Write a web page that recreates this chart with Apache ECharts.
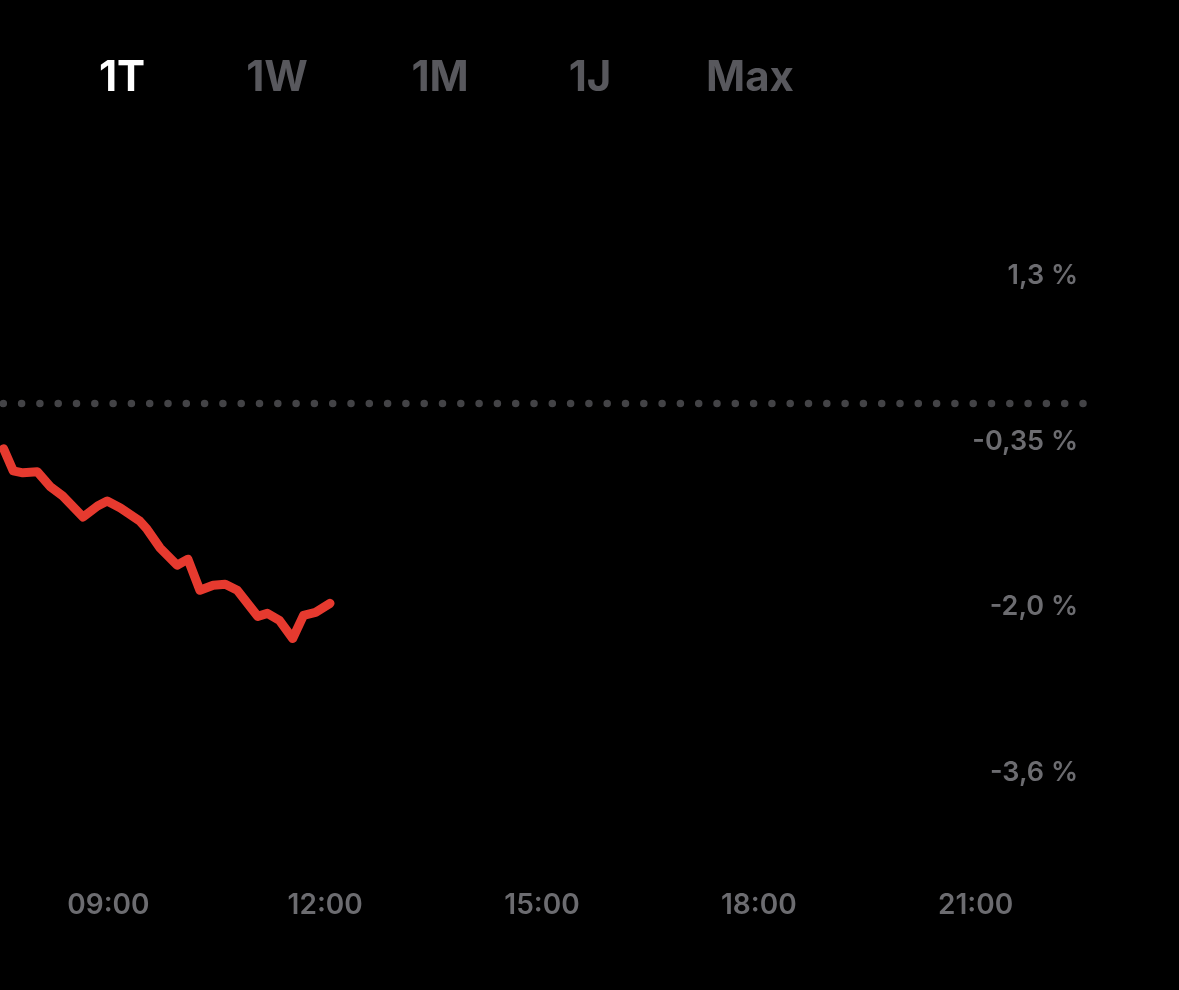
<!DOCTYPE html>
<html>
<head>
<meta charset="utf-8">
<script src="https://cdn.jsdelivr.net/npm/echarts@6/dist/echarts.min.js"></script>
<style>
  html, body { margin: 0; padding: 0; background: #000; }
  #chart { width: 1179px; height: 990px; }
</style>
</head>
<body>
<div id="chart"></div>
<script>
// ---- data ----
const tabs = ['1T', '1W', '1M', '1J', 'Max'];
const activeTab = '1T';
const times = ['07:33','07:41','07:49','08:01','08:12','08:22','08:39','08:51','08:59','09:10','09:26','09:32','09:43','09:57','10:06','10:16','10:27','10:37','10:47','11:04','11:12','11:22','11:33','11:42','11:52','12:04'];
const changePct = [-0.45,-0.67,-0.69,-0.68,-0.83,-0.92,-1.13,-1.02,-0.97,-1.04,-1.17,-1.25,-1.44,-1.61,-1.55,-1.86,-1.81,-1.80,-1.86,-2.12,-2.09,-2.16,-2.34,-2.11,-2.08,-1.99];
const baselinePct = 0;
const yTickValues = [1.3, -0.35, -2.0, -3.65];
const yTickLabels = ['1,3 %', '-0,35 %', '-2,0 %', '-3,6 %'];
const xTickHours = [9, 12, 15, 18, 21];
const xTickLabels = ['09:00', '12:00', '15:00', '18:00', '21:00'];
const sessionStart = '07:30';
const sessionEnd = '22:30';

// ---- helpers ----
const toHours = s => { const p = s.split(':'); return +p[0] + (+p[1]) / 60; };
const lineData = times.map((t, i) => [toHours(t), changePct[i]]);
const xMin = toHours(sessionStart), xMax = toHours(sessionEnd);

const FONT = 'Inter, "Noto Sans", "DejaVu Sans", sans-serif';
const tabCenters = [122, 277, 440, 590, 750];

const chart = echarts.init(document.getElementById('chart'), null, { renderer: 'canvas' });
chart.setOption({
  backgroundColor: '#000000',
  animation: false,
  graphic: tabs.map((t, i) => ({
    type: 'text',
    x: tabCenters[i],
    y: 78,
    style: {
      text: t,
      fill: t === activeTab ? '#ffffff' : '#58585d',
      fontSize: 42,
      fontWeight: 700,
      fontFamily: FONT,
      align: 'center',
      verticalAlign: 'middle'
    }
  })),
  grid: { left: 0, width: 1084, top: 142.6, height: 712.7, containLabel: false },
  xAxis: {
    type: 'value',
    min: xMin,
    max: xMax,
    axisLine: { show: false },
    axisTick: { show: false },
    splitLine: { show: false },
    axisLabel: {
      customValues: xTickHours,
      formatter: v => xTickLabels[xTickHours.indexOf(v)] || '',
      color: '#6c6c70',
      fontSize: 28,
      fontWeight: 600,
      fontFamily: FONT,
      margin: 36
    }
  },
  yAxis: {
    type: 'value',
    position: 'right',
    min: -4.5,
    max: 2.6,
    axisLine: { show: false },
    axisTick: { show: false },
    splitLine: { show: false },
    axisLabel: {
      inside: true,
      customValues: yTickValues,
      formatter: v => { const i = yTickValues.findIndex(t => Math.abs(t - v) < 1e-6); return i >= 0 ? '{t|' + yTickLabels[i] + '}' : ''; },
      rich: {
        t: {
          color: '#6c6c70',
          fontSize: 27,
          fontWeight: 600,
          fontFamily: FONT,
          padding: [6, 0, 0, 0]
        }
      },
      margin: 6
    }
  },
  series: [
    {
      type: 'line',
      data: [[xMin, baselinePct], [xMax, baselinePct]],
      symbol: 'none',
      silent: true,
      clip: false,
      lineStyle: { color: '#434346', width: 7.5, type: [0.01, 18.29], cap: 'round', dashOffset: -3.3 },
      z: 1
    },
    {
      type: 'line',
      data: lineData,
      symbol: 'none',
      smooth: false,
      lineStyle: { color: '#e63a2f', width: 9, cap: 'round', join: 'round' },
      z: 2
    }
  ]
});
</script>
</body>
</html>
